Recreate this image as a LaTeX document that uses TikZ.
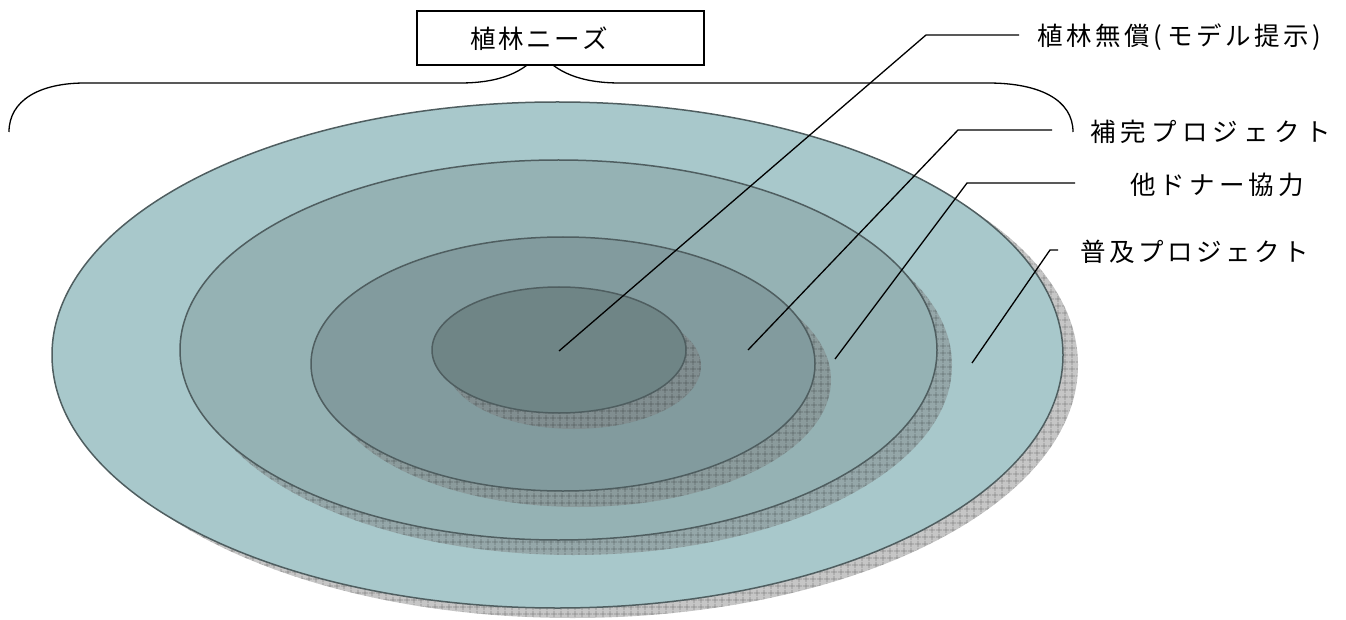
\documentclass[tikz,border=0pt]{standalone}
\usepackage{fontspec}
\newfontfamily\jp{Noto Sans CJK JP}
\usetikzlibrary{patterns.meta}

\definecolor{ringA}{HTML}{A8C8CB}
\definecolor{ringB}{HTML}{95B2B4}
\definecolor{ringC}{HTML}{829B9E}
\definecolor{ringD}{HTML}{6F8586}
\definecolor{ringline}{HTML}{4F5E60}

% set each character of #2 in a box of width #1
\makeatletter
\newcommand\pitched[2]{\@tfor\pch:=#2\do{\makebox[#1][l]{\pch}}}
\makeatother

\begin{document}
\begin{tikzpicture}[x=1pt,y=-1pt,
  ring/.style={draw=ringline, line width=1.5pt},
  drop/.style={fill=gray, fill opacity=0.45, draw=none,
    postaction={pattern={Hatch[distance=6.5pt,line width=0.6pt]},
                pattern color=black, fill opacity=0.3}},
  leader/.style={draw=black, line width=1.3pt},
  brace/.style={draw=black, line width=1.3pt},
  lbl/.style={anchor=west, inner sep=0pt, font=\jp\fontsize{25.5}{30}\selectfont}]
\useasboundingbox (0,0) rectangle (1346,620);

% concentric rings, each with its hatched drop shadow
\fill[drop] (572.5,365) ellipse [x radius=505.5, y radius=253];
\filldraw[ring, fill=ringA] (557.5,355) ellipse [x radius=505.5, y radius=253];
\fill[drop] (573.5,365) ellipse [x radius=378.5, y radius=190];
\filldraw[ring, fill=ringB] (558.5,350) ellipse [x radius=378.5, y radius=190];
\fill[drop] (579,380) ellipse [x radius=252, y radius=127];
\filldraw[ring, fill=ringC] (563,364) ellipse [x radius=252, y radius=127];
\fill[drop] (574,366) ellipse [x radius=127, y radius=63];
\filldraw[ring, fill=ringD] (559,350) ellipse [x radius=127, y radius=63];

% brace over the rings
\draw[brace] (9,132) .. controls (9,100) and (40,83) .. (85,83) -- (460,83)
  .. controls (500,83) and (525,72) .. (540,52)
  .. controls (555,72) and (580,83) .. (620,83) -- (988,83)
  .. controls (1040,83) and (1073,100) .. (1073,132);
\node[draw, fill=white, line width=1.2pt, minimum width=287pt, minimum height=54pt,
  inner sep=0pt] (needbox) at (560.5,38) {};
\node[lbl] (needs) at (470,39) {\pitched{28pt}{植林ニーズ}};

% labels
\node[lbl] (L1) at (1037,37)
  {\pitched{29pt}{植林無償}\makebox[14pt][l]{(}\pitched{29pt}{モデル提示})};
\node[lbl] (L2) at (1090,132) {\pitched{30.7pt}{補完プロジェクト}};
\node[lbl] (L3) at (1130,185) {\pitched{29.6pt}{他ドナー協力}};
\node[lbl] (L4) at (1080,252) {\pitched{29pt}{普及プロジェクト}};

% leader lines
\coordinate (t1) at (1019,35);  \coordinate (k1) at (926,35);  \coordinate (e1) at (559,351);
\coordinate (t2) at (1052,130); \coordinate (k2) at (958,130); \coordinate (e2) at (748,350);
\coordinate (t3) at (1075,183); \coordinate (k3) at (967,183); \coordinate (e3) at (835,359);
\coordinate (t4) at (1058,250); \coordinate (k4) at (1050,250); \coordinate (e4) at (972,363);
\draw[leader] (t1) -- (k1) -- (e1);
\draw[leader] (t2) -- (k2) -- (e2);
\draw[leader] (t3) -- (k3) -- (e3);
\draw[leader] (t4) -- (k4) -- (e4);
\end{tikzpicture}
\end{document}
